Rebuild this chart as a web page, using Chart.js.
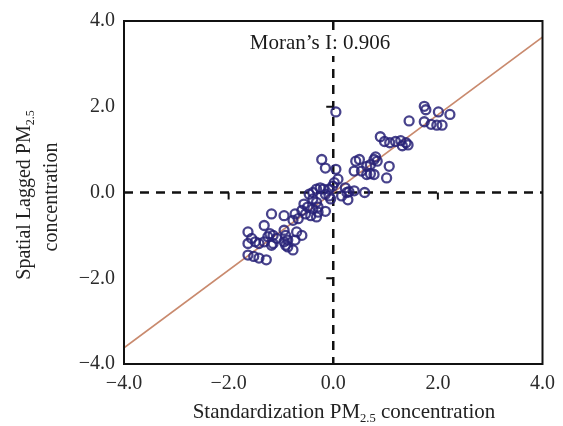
<!DOCTYPE html>
<html>
<head>
<meta charset="utf-8">
<script src="https://cdn.jsdelivr.net/npm/chart.js@4.4.1/dist/chart.umd.min.js"></script>
<style>
  html, body { margin: 0; padding: 0; background: #fff; }
  #wrap { width: 563px; height: 426px; position: relative; }
</style>
</head>
<body>
<div id="wrap"><canvas id="moran"></canvas></div>
<script>
// Standardized PM2.5 (x) vs spatial lag (y)
const stdPM = [
  1.74, 1.74, 1.77, 2.01, 2.23, 1.87, 1.98, 2.08, 1.45, 0.90,
  0.98, 1.08, 1.19, 1.29, 1.39, 1.32, 1.43, 0.05, 0.81, 0.78,
  0.84, 0.64, 0.71, 1.07, 1.02, 0.50, 0.43, 0.40, 0.54, 0.71,
  0.78, 0.64, 0.60, 0.40, 0.30, -0.22, -0.15, 0.05, 0.09, 0.02,
  -0.01, -0.08, 0.23, 0.26, 0.16, 0.28, -0.25, -0.19, -0.32, -0.39,
  -0.46, -0.39, -0.32, -0.15, -0.08, -0.05, -0.56, -0.49, -0.39, -0.29,
  -0.15, -0.60, -0.53, -0.43, -0.32, -0.29, -0.73, -0.67, -0.77, -0.94,
  -1.18, -1.32, -1.63, -1.56, -1.63, -1.49, -1.42, -1.32, -1.25, -1.21,
  -1.15, -1.08, -1.18, -0.94, -0.91, -0.94, -0.87, -0.91, -0.87, -0.70,
  -0.60, -0.77, -1.63, -1.52, -1.42, -1.28, -1.15, -0.73
];
const lagPM = [
  1.65, 2.01, 1.93, 1.88, 1.82, 1.59, 1.57, 1.57, 1.67, 1.30,
  1.19, 1.16, 1.19, 1.21, 1.16, 1.09, 1.11, 1.88, 0.83, 0.77,
  0.73, 0.61, 0.65, 0.61, 0.34, 0.77, 0.73, 0.50, 0.50, 0.44,
  0.42, 0.42, 0.00, 0.04, 0.02, 0.77, 0.57, 0.54, 0.31, 0.23,
  0.15, 0.08, 0.11, 0.00, -0.08, -0.17, 0.11, 0.08, 0.08, 0.00,
  -0.04, -0.15, -0.23, -0.04, -0.08, -0.15, -0.27, -0.34, -0.38, -0.34,
  -0.44, -0.42, -0.50, -0.54, -0.57, -0.46, -0.50, -0.61, -0.65, -0.54,
  -0.50, -0.77, -0.92, -1.07, -1.19, -1.15, -1.19, -1.15, -1.03, -0.96,
  -1.00, -1.07, -1.23, -0.88, -1.00, -1.15, -1.11, -1.23, -1.27, -0.92,
  -1.00, -1.34, -1.46, -1.49, -1.53, -1.57, -1.19, -1.11
];

// fitted line, slope = Moran's I
const fitX = [-4.0, 4.0];
const fitY = [-3.624, 3.624];

const tickValues = [-4, -2, 0, 2, 4];
const moranLabel = "Moran\u2019s I: 0.906";

const SERIF = "'Liberation Serif', 'DejaVu Serif', serif";

const fmt = (v) => (v < 0 ? "\u2212" : "") + Math.abs(v).toFixed(1);

// draws text with a subscript part: parts = [[text, isSub], ...]
function drawRich(ctx, parts, size) {
  let total = 0;
  parts.forEach(([t, sub]) => {
    ctx.font = (sub ? size * 0.6 : size) + "px " + SERIF;
    total += ctx.measureText(t).width;
  });
  let x = -total / 2;
  parts.forEach(([t, sub]) => {
    ctx.font = (sub ? size * 0.6 : size) + "px " + SERIF;
    ctx.fillText(t, x, sub ? size * 0.3 : 0);
    x += ctx.measureText(t).width;
  });
}

const decorPlugin = {
  id: "decor",
  beforeDatasetsDraw(chart) {
    const { ctx, chartArea: a, scales } = chart;
    const x0 = scales.x.getPixelForValue(0);
    const y0 = scales.y.getPixelForValue(0);
    ctx.save();
    ctx.strokeStyle = "#111";
    ctx.lineWidth = 2.5;
    ctx.setLineDash([9, 7]);
    ctx.beginPath();
    ctx.moveTo(a.left, y0);
    ctx.lineTo(a.right, y0);
    ctx.moveTo(x0, a.top);
    ctx.lineTo(x0, a.bottom);
    ctx.stroke();
    ctx.setLineDash([]);
    // small ticks on the centre axes
    ctx.lineWidth = 2;
    ctx.beginPath();
    [-2, 2].forEach((v) => {
      const px = scales.x.getPixelForValue(v);
      ctx.moveTo(px, y0);
      ctx.lineTo(px, y0 + 7);
      const py = scales.y.getPixelForValue(v);
      ctx.moveTo(x0, py);
      ctx.lineTo(x0 - 7, py);
    });
    ctx.stroke();

    // Moran's I label with white box over the dashed line
    ctx.font = "21px " + SERIF;
    const tw = ctx.measureText(moranLabel).width;
    const cx = 320, cy = 43;
    ctx.fillStyle = "#fff";
    ctx.fillRect(cx - tw / 2 - 3, cy - 13, tw + 6, 26);
    ctx.fillStyle = "#1a1a1a";
    ctx.textAlign = "center";
    ctx.textBaseline = "middle";
    ctx.fillText(moranLabel, cx, cy);
    ctx.restore();
  },
  afterDraw(chart) {
    const { ctx, chartArea: a } = chart;
    ctx.save();
    ctx.strokeStyle = "#111";
    ctx.lineWidth = 2;
    ctx.strokeRect(a.left, a.top, a.right - a.left, a.bottom - a.top);

    ctx.fillStyle = "#222";
    ctx.textBaseline = "middle";
    ctx.textAlign = "left";
    // x title
    ctx.save();
    ctx.translate(344, 412);
    drawRich(ctx, [["Standardization PM", false], ["2.5", true], [" concentration", false]], 21);
    ctx.restore();
    // y title, two lines
    ctx.save();
    ctx.translate(25, 195);
    ctx.rotate(-Math.PI / 2);
    drawRich(ctx, [["Spatial Lagged PM", false], ["2.5", true]], 20);
    ctx.restore();
    ctx.save();
    ctx.translate(52, 197);
    ctx.rotate(-Math.PI / 2);
    drawRich(ctx, [["concentration", false]], 20);
    ctx.restore();
    ctx.restore();
  }
};

const points = stdPM.map((x, i) => ({ x: x, y: lagPM[i] }));
const fitLine = fitX.map((x, i) => ({ x: x, y: fitY[i] }));

new Chart(document.getElementById("moran").getContext("2d"), {
  type: "scatter",
  data: {
    datasets: [
      {
        label: "Counties",
        data: points,
        pointRadius: 4.5,
        pointBorderWidth: 2.3,
        pointBorderColor: "rgba(40, 34, 120, 0.85)",
        pointBackgroundColor: "rgba(255, 255, 255, 0)",
        order: 1,
      },
      {
        label: "Fit",
        type: "line",
        data: fitLine,
        borderColor: "#c98a6e",
        borderWidth: 1.8,
        pointRadius: 0,
        fill: false,
        order: 2,
      },
    ],
  },
  options: {
    responsive: true,
    maintainAspectRatio: false,
    animation: false,
    layout: { padding: { left: 0, top: 16, right: 19, bottom: 0 } },
    plugins: {
      legend: { display: false },
      tooltip: { enabled: false },
      title: { display: false },
    },
    scales: {
      x: {
        type: "linear",
        min: -4,
        max: 4,
        afterBuildTicks: (s) => { s.ticks = tickValues.map((v) => ({ value: v })); },
        grid: { display: false, drawTicks: false },
        border: { display: false },
        afterFit: (s) => { s.height = 62; },
        ticks: {
          padding: 8,
          color: "#2a2a2a",
          font: { family: SERIF, size: 20 },
          maxRotation: 0,
          callback: (v) => fmt(v),
        },
      },
      y: {
        type: "linear",
        min: -4,
        max: 4,
        afterBuildTicks: (s) => { s.ticks = tickValues.map((v) => ({ value: v })); },
        grid: { display: false, drawTicks: false },
        border: { display: false },
        afterFit: (s) => { s.width = 124; },
        ticks: {
          padding: 9,
          color: "#2a2a2a",
          font: { family: SERIF, size: 20 },
          callback: (v) => fmt(v),
        },
      },
    },
  },
  plugins: [decorPlugin],
});
</script>
</body>
</html>
